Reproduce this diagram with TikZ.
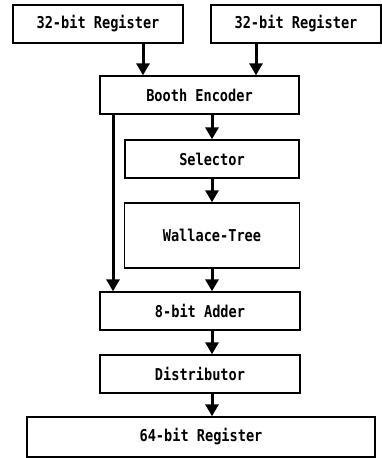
\documentclass[tikz,border=0pt]{standalone}
\usepackage{fontspec}
\newfontfamily\blockfont{DejaVu Sans Mono}
\usetikzlibrary{arrows.meta}
\newcommand{\lbl}[1]{\scalebox{1}[1.2]{#1}}
\tikzset{
	block/.style={draw, line width=1.4pt, minimum height=38pt, inner sep=0pt,
		font=\blockfont\bfseries\fontsize{13.6}{16}\selectfont},
	flow/.style={line width=3pt, -{Triangle[length=12pt, width=13pt]}}
}

\begin{document}
\begin{tikzpicture}[x=1pt, y=-1pt]
	\useasboundingbox (0, 0) rectangle (382, 458);
	\node[block, minimum width=170pt] (reg1) at (98, 24) {\lbl{32-bit Register}};
	\node[block, minimum width=170pt] (reg2) at (296, 24) {\lbl{32-bit Register}};
	\node[block, minimum width=199pt] (booth) at (199.5, 95) {\lbl{Booth Encoder}};
	\node[block, minimum width=174pt] (sel) at (212, 159) {\lbl{Selector}};
	\node[block, minimum width=175pt, minimum height=65pt] (wallace) at (212, 235.5) {\lbl{Wallace-Tree}};
	\node[block, minimum width=200pt] (adder) at (200, 311) {\lbl{8-bit Adder}};
	\node[block, minimum width=200pt] (dist) at (200, 374) {\lbl{Distributor}};
	\node[block, minimum width=348pt, minimum height=40pt] (reg64) at (201, 437) {\lbl{64-bit Register}};
	
	\coordinate (in1) at ([xshift=-56.5pt]booth.north);
	\coordinate (in2) at ([xshift=56.5pt]booth.north);
	\coordinate (bypass) at ([xshift=-86.5pt]booth.south);
	
	\draw[flow] (reg1.south -| in1) -- (in1);
	\draw[flow] (reg2.south -| in2) -- (in2);
	\draw[flow] (booth.south -| sel.north) -- (sel.north);
	\draw[flow] (sel.south) -- (wallace.north);
	\draw[flow] (bypass) -- (bypass |- adder.north);
	\draw[flow] (wallace.south) -- (wallace.south |- adder.north);
	\draw[flow] (adder.south -| wallace.south) -- (dist.north -| wallace.south);
	\draw[flow] (dist.south -| wallace.south) -- (reg64.north -| wallace.south);
\end{tikzpicture}
\end{document}
